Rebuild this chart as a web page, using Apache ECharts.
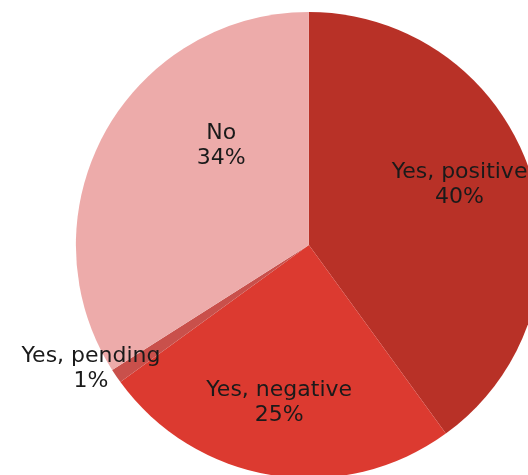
<!DOCTYPE html>
<html>
<head>
<meta charset="utf-8">
<script src="https://cdn.jsdelivr.net/npm/echarts@6/dist/echarts.min.js"></script>
<style>
  html, body { margin: 0; padding: 0; background: #ffffff; }
  #chart { width: 528px; height: 475px; }
</style>
</head>
<body>
<div id="chart"></div>
<script>
const categories = ['Yes, positive', 'Yes, negative', 'Yes, pending', 'No'];
const shares = [40, 25, 1, 34];

const sliceColors = ['#B83127', '#DC3A30', '#C9504B', '#EDABAA'];
const labelOffsets = [[37, -23], [-11, 40], [-119, 57], [17, -42]];

const chart = echarts.init(document.getElementById('chart'), null, { renderer: 'canvas' });
chart.setOption({
  backgroundColor: '#ffffff',
  animation: false,
  series: [{
    type: 'pie',
    center: ['58.5%', '51.6%'],
    radius: [0, 233],
    startAngle: 90,
    clockwise: true,
    avoidLabelOverlap: false,
    itemStyle: { borderWidth: 0 },
    label: {
      show: true,
      position: 'inside',
      formatter: '{b}\n{c}%',
      fontFamily: 'DejaVu Sans, sans-serif',
      fontSize: 22,
      lineHeight: 25,
      color: '#1a1a1a',
      align: 'center'
    },
    labelLine: { show: false },
    emphasis: { disabled: true },
    data: categories.map((name, i) => ({
      name: name,
      value: shares[i],
      itemStyle: { color: sliceColors[i] },
      label: { offset: labelOffsets[i] }
    }))
  }]
});
</script>
</body>
</html>
